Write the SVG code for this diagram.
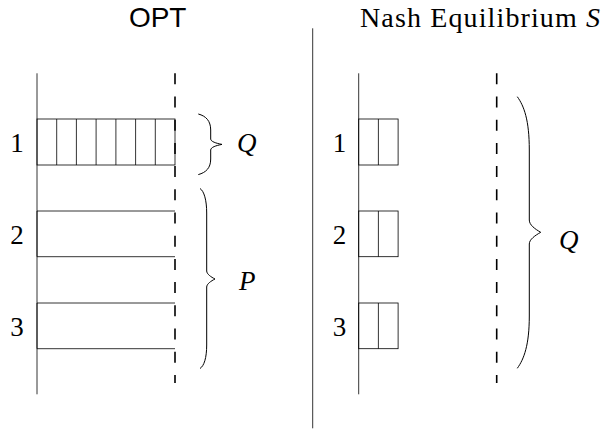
<svg xmlns="http://www.w3.org/2000/svg" width="606" height="438" viewBox="0 0 606 438">
<style>
.ln{stroke:#000;stroke-width:0.8;fill:none}
.dash{stroke:#000;stroke-width:1.6;fill:none;stroke-dasharray:11 12.2}
.br{stroke:#000;stroke-width:1;fill:none}
text{fill:#000}
</style>
<rect width="606" height="438" fill="#fff"/>
<g id="titles">
<text x="157.7" y="27" font-family="'Liberation Sans', Arial, 'DejaVu Sans', sans-serif" font-size="28" text-anchor="middle">OPT</text>
<text x="360" y="27.3" font-family="'Liberation Serif', 'Times New Roman', 'DejaVu Serif', serif" font-size="28" textLength="240" lengthAdjust="spacing">Nash Equilibrium <tspan font-style="italic">S</tspan></text>
</g>
<g id="divider"><line class="ln" x1="312.7" y1="28.3" x2="312.7" y2="428.3"/></g>
<g id="opt">
<line class="ln" x1="37" y1="73.3" x2="37" y2="394.3"/>
<line class="dash" x1="175" y1="73.3" x2="175" y2="383"/>
<g id="opt-row1">
<rect class="ln" x="37" y="119" width="138" height="46"/>
<path class="ln" d="M56.7,119V165M76.4,119V165M96.1,119V165M115.9,119V165M135.6,119V165M155.3,119V165"/>
<text x="17" y="151.5" font-family="'Liberation Serif', 'Times New Roman', 'DejaVu Serif', serif" font-size="27" text-anchor="middle">1</text>
</g>
<g id="opt-row2">
<path class="ln" d="M175,211H37V256.7H175"/>
<text x="17" y="243.5" font-family="'Liberation Serif', 'Times New Roman', 'DejaVu Serif', serif" font-size="27" text-anchor="middle">2</text>
</g>
<g id="opt-row3">
<path class="ln" d="M175,303H37V348.7H175"/>
<text x="17" y="336" font-family="'Liberation Serif', 'Times New Roman', 'DejaVu Serif', serif" font-size="27" text-anchor="middle">3</text>
</g>
<g id="opt-brace-q">
<path class="br" d="M198.3,114 C206,116 210.7,121 210.7,130 L210.7,139 C210.7,141.5 216,143.3 222,144.4 C216,145.5 210.7,147.3 210.7,150 L210.7,159 C210.7,168 206,172.5 198.3,174.6"/>
<text x="237" y="152" font-family="'Liberation Serif', 'Times New Roman', 'DejaVu Serif', serif" font-size="27" font-style="italic">Q</text>
</g>
<g id="opt-brace-p">
<path class="br" d="M200,188.5 C204,191 206.7,200 206.7,213 L206.7,271 C206.7,274 211,277 215,279 C211,281 206.7,284 206.7,287 L206.7,345 C206.7,358 204,366 200,368.5"/>
<text x="239" y="290" font-family="'Liberation Serif', 'Times New Roman', 'DejaVu Serif', serif" font-size="27" font-style="italic">P</text>
</g>
</g>
<g id="nash">
<line class="ln" x1="358.7" y1="73.3" x2="358.7" y2="394.3"/>
<line class="dash" x1="496.7" y1="73.3" x2="496.7" y2="383"/>
<g id="nash-row1">
<rect class="ln" x="358.7" y="119" width="39.4" height="46"/>
<line class="ln" x1="378.4" y1="119" x2="378.4" y2="165"/>
<text x="339.5" y="151.5" font-family="'Liberation Serif', 'Times New Roman', 'DejaVu Serif', serif" font-size="27" text-anchor="middle">1</text>
</g>
<g id="nash-row2">
<rect class="ln" x="358.7" y="211" width="39.4" height="45.7"/>
<line class="ln" x1="378.4" y1="211" x2="378.4" y2="256.7"/>
<text x="339.5" y="243.5" font-family="'Liberation Serif', 'Times New Roman', 'DejaVu Serif', serif" font-size="27" text-anchor="middle">2</text>
</g>
<g id="nash-row3">
<rect class="ln" x="358.7" y="303" width="39.4" height="45.7"/>
<line class="ln" x1="378.4" y1="303" x2="378.4" y2="348.7"/>
<text x="339.5" y="336" font-family="'Liberation Serif', 'Times New Roman', 'DejaVu Serif', serif" font-size="27" text-anchor="middle">3</text>
</g>
<g id="nash-brace-q">
<path class="br" d="M517.3,96.7 C524,106 529.3,120 529.3,150 L529.3,220 C529.3,225 535,229 540.7,232.3 C535,235.5 529.3,239.5 529.3,244 L529.3,316 C529.3,345 524,359 517.3,368.3"/>
<text x="559" y="249" font-family="'Liberation Serif', 'Times New Roman', 'DejaVu Serif', serif" font-size="27" font-style="italic">Q</text>
</g>
</g>
</svg>
